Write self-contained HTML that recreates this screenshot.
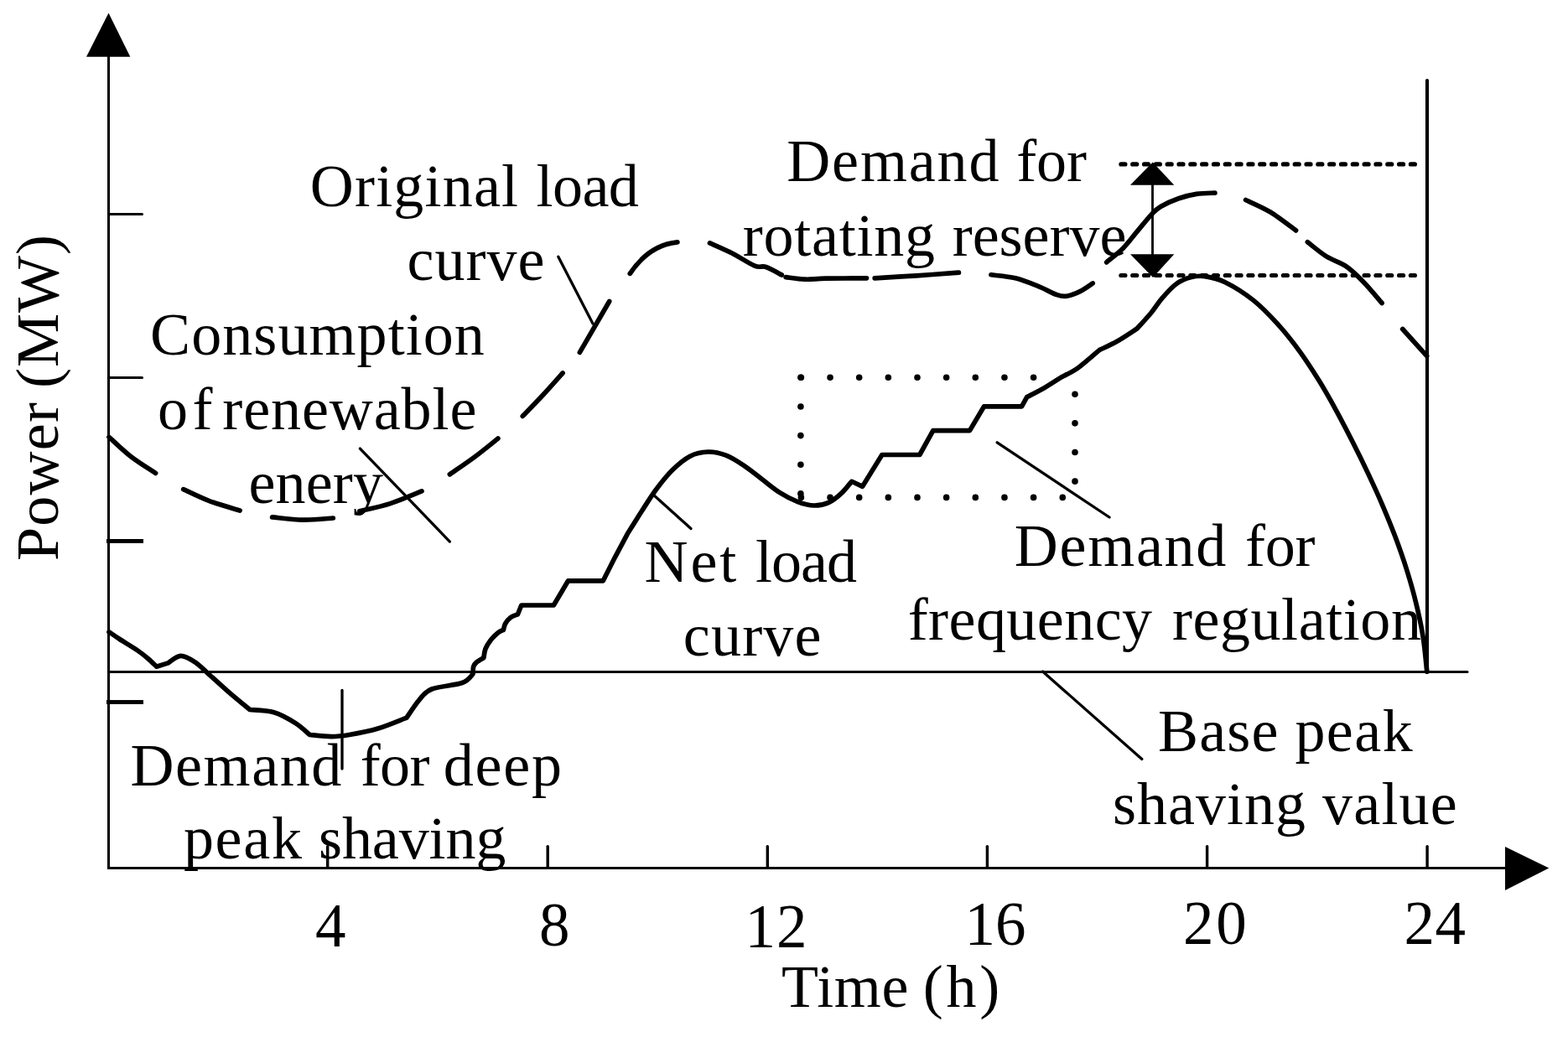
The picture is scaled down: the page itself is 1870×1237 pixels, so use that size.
<!DOCTYPE html>
<html lang="en"><head><meta charset="utf-8"><title>Load curves and flexibility demand</title>
<style>html,body{margin:0;padding:0;background:#fff}body{width:1870px;height:1237px;overflow:hidden}svg{display:block}text{font-family:"Liberation Serif", "Times New Roman", serif;font-size:72px;fill:#000;white-space:pre}.n{font-size:73px}</style></head><body>
<svg width="1870" height="1237" viewBox="0 0 1870 1237">
<rect width="1870" height="1237" fill="#fff"/>
<g stroke="#000" stroke-width="3" fill="none" stroke-linejoin="miter">
<path d="M129.5 60V1035.5H1800"/>
<path d="M129.5 801.4H1750" stroke-linecap="round"/>
<path d="M129.5 255.5H169.5" stroke-linecap="round"/>
<path d="M129.5 450.5H169.5" stroke-linecap="round"/>
</g>
<rect x="127" y="643.00" width="44" height="4.9" fill="#000"/>
<rect x="127" y="835.05" width="44" height="4.9" fill="#000"/>
<g stroke="#000" stroke-width="3.4" fill="none" stroke-linecap="round">
<path d="M390.7 1009.6V1035"/>
<path d="M653.2 1009.6V1035"/>
<path d="M915.3 1009.6V1035"/>
<path d="M1177.4 1009.6V1035"/>
<path d="M1439.6 1009.6V1035"/>
<path d="M1702.1 1009.6V1035"/>
<path d="M1702 96V802" stroke-width="4.1"/>
</g>
<path d="M129.5 15.5L155.3 67.7H103Z" fill="#000"/>
<path d="M1847.3 1035.6L1795 1010V1062Z" fill="#000"/>
<g stroke="#000" stroke-width="5.2" fill="none" stroke-linecap="round" stroke-dasharray="5 8.82">
<path d="M1336.9 195.9H1688.5"/>
<path d="M1336.9 328.5H1688.5"/>
</g>
<path d="M1374.5 215V308" stroke="#000" stroke-width="2.8" fill="none"/>
<path d="M1374.7 193.5L1400.3 220.8H1348Z" fill="#000"/>
<path d="M1375 331L1400.3 303.2H1348Z" fill="#000"/>
<g stroke="#000" stroke-width="7.6" fill="none" stroke-linecap="round" stroke-dasharray="0 34.65">
<path d="M955.4 450.3H1240"/>
<path d="M955.4 593.4H1280"/>
<path d="M954.9 450.3V594"/>
<path d="M1282 470.2V590"/>
</g>
<g stroke="#000" stroke-width="3.3" fill="none" stroke-linecap="round">
<path d="M665.8 306.3L707.0 386.0"/>
<path d="M429.4 535.1L536.4 646.1"/>
<path d="M780.1 591.0L824.0 630.6"/>
<path d="M1189.2 527.8L1323.0 617.0"/>
<path d="M1243.5 801.0L1361.8 905.5"/>
<path d="M408.0 823.4L408.0 917.1"/>
</g>
<g stroke="#000" stroke-width="5.7" fill="none" stroke-linecap="round" stroke-linejoin="round">
<path d="M130.0 753.8C132.1 755.2 137.1 758.8 142.8 762.5C148.5 766.2 158.5 772.1 164.2 776.0C169.9 779.9 173.3 782.8 177.0 786.0C180.7 789.2 185.0 793.7 186.6 795.2L200.5 790.9C203.0 789.5 210.2 782.6 215.5 782.4C220.8 782.2 226.9 786.1 232.6 789.8C238.3 793.5 243.3 799.1 249.7 804.8C256.1 810.5 263.1 817.1 271.1 824.1C279.1 831.1 293.4 842.8 297.9 846.5C302.7 847.0 317.6 847.0 326.7 849.7C335.8 852.4 345.3 858.1 352.4 862.6C359.5 867.1 366.6 874.2 369.5 876.5C373.8 876.9 387.3 878.6 395.2 878.6C403.1 878.6 407.3 878.1 416.6 876.5C425.9 874.9 439.4 872.4 450.8 869.0C462.2 865.6 479.3 858.2 485.0 856.1C487.5 852.5 495.0 840.5 500.0 834.8C505.0 829.1 506.4 825.4 514.9 822.0C523.4 818.6 543.0 817.5 551.2 814.5C559.4 811.5 562.0 805.7 564.1 803.9C564.2 802.5 563.9 797.6 564.6 795.3C565.3 793.0 566.2 791.8 568.3 790.0C570.3 788.2 575.5 785.5 576.9 784.6C577.2 782.8 577.6 777.5 579.0 773.9C580.4 770.3 583.0 766.4 585.5 763.2C588.0 760.0 591.5 756.7 594.0 754.7C596.5 752.7 599.3 752.0 600.4 751.4C600.8 750.2 601.2 746.5 602.6 744.0C604.0 741.5 606.5 738.4 609.0 736.5C611.5 734.6 616.1 733.4 617.5 732.8L621.8 722.0L660.3 722.0L677.6 692.8L719.3 692.8L733.4 664.8L748.3 636.8C751.2 632.2 759.8 618.3 765.5 609.5C771.2 600.7 776.6 591.9 782.6 583.8C788.6 575.7 794.9 567.6 801.6 561.0C808.3 554.4 815.9 547.9 823.0 544.2C830.1 540.5 837.3 539.2 844.4 539.0C851.5 538.8 858.7 540.5 865.8 543.2C872.9 545.9 880.1 550.7 887.2 555.4C894.3 560.1 901.5 566.1 908.6 571.5C915.7 576.9 922.9 583.1 930.0 587.6C937.1 592.1 944.6 596.0 951.4 598.6C958.2 601.2 964.8 602.9 971.0 603.0C977.2 603.1 983.1 601.7 988.5 599.3C993.9 596.9 999.0 592.6 1003.5 588.4C1008.0 584.2 1013.7 576.6 1015.7 574.3L1028.6 580.3L1051.9 542.5L1096.8 542.5L1112.8 513.6L1156.5 513.6L1173.6 484.8L1218.5 484.8L1224.7 473.6C1228.1 471.8 1238.1 467.0 1245.0 463.0C1251.9 459.0 1262.7 451.9 1266.2 449.7C1269.4 447.9 1278.0 444.4 1285.5 439.0C1293.0 433.6 1306.8 421.2 1311.1 417.6C1314.7 415.8 1325.0 411.3 1332.5 407.0C1340.0 402.7 1352.1 394.5 1356.0 392.0C1358.9 388.8 1368.2 378.8 1373.2 372.7C1378.2 366.6 1381.0 361.3 1386.0 355.6C1391.0 349.9 1397.4 342.6 1403.1 338.5C1408.8 334.4 1414.3 332.3 1420.0 330.8C1425.7 329.3 1430.2 328.7 1437.0 329.6C1443.8 330.6 1451.0 331.7 1460.7 336.5C1470.4 341.3 1484.4 349.9 1495.0 358.4C1505.6 366.9 1515.3 377.2 1524.5 387.4C1533.7 397.6 1542.2 408.5 1550.3 419.6C1558.4 430.7 1565.8 442.3 1573.1 454.1C1580.4 465.9 1587.2 478.1 1593.9 490.3C1600.6 502.5 1606.9 514.9 1613.2 527.3C1619.5 539.7 1625.6 552.1 1631.5 564.6C1637.4 577.1 1643.2 589.6 1648.6 602.3C1654.0 615.0 1659.3 627.7 1664.1 640.6C1668.9 653.5 1673.5 666.4 1677.6 679.5C1681.7 692.6 1685.5 705.8 1688.7 719.1C1692.0 732.5 1694.9 745.9 1697.1 759.6C1699.3 773.3 1701.0 794.3 1701.8 801.2"/>
<path d="M130.0 521.4C134.3 525.2 146.3 537.0 155.6 544.2C164.9 551.4 180.6 561.1 185.6 564.5"/>
<path d="M218.7 583.7C223.9 586.0 238.5 593.4 249.7 597.6C260.9 601.8 280.0 607.1 286.1 609.0"/>
<path d="M324.6 616.9C330.7 617.4 348.9 619.9 361.0 620.1C373.1 620.3 391.2 618.4 397.3 618.0"/>
<path d="M428.8 609.8C434.9 608.3 453.1 604.6 465.5 600.6C477.9 596.6 496.8 588.4 503.0 585.9"/>
<path d="M536.4 565.9C541.2 562.5 555.9 552.6 565.5 545.5C575.1 538.4 589.2 526.8 593.9 523.1"/>
<path d="M623.3 496.4C627.3 492.2 639.5 479.9 647.5 471.3C655.5 462.7 667.2 449.4 671.1 445.0"/>
<path d="M691.4 420.4L726.7 359.5"/>
<path d="M751.3 326.3Q774.5 292.0 808.0 288.9"/>
<path d="M846.5 289.9C850.9 291.9 864.1 297.4 873.0 302.0C881.9 306.6 893.4 314.4 900.1 317.2C906.9 319.9 908.1 316.7 913.5 318.5C918.9 320.3 929.1 326.3 932.2 327.9"/>
<path d="M937.0 330.6C940.8 331.0 952.0 332.9 960.0 333.2C968.0 333.5 972.8 332.4 985.0 332.2C997.2 332.0 1025.4 331.9 1033.5 331.8"/>
<path d="M1043.2 331.9C1051.5 331.4 1076.3 329.9 1093.0 328.8C1109.7 327.7 1135.0 325.8 1143.4 325.2"/>
<path d="M1181.9 327.8C1186.8 328.5 1201.7 329.5 1211.0 331.8C1220.3 334.1 1229.8 338.1 1238.0 341.4C1246.2 344.7 1254.7 349.6 1260.4 351.6C1266.1 353.6 1267.4 353.9 1272.0 353.2C1276.6 352.5 1282.8 350.2 1288.0 347.6C1293.2 345.1 1300.7 339.5 1303.2 337.9"/>
<path d="M1319.7 312.8C1323.0 310.0 1333.4 302.1 1339.3 296.2C1345.2 290.3 1349.6 284.0 1355.3 277.2C1361.0 270.4 1368.7 260.7 1373.5 255.6C1378.3 250.5 1378.9 249.6 1384.2 246.5C1389.5 243.4 1398.5 239.3 1405.6 236.8C1412.7 234.3 1419.8 232.5 1427.0 231.4C1434.2 230.3 1445.2 230.3 1448.9 230.1"/>
<path d="M1485.6 238.5C1490.6 241.0 1505.5 247.2 1515.5 253.3C1525.5 259.4 1540.5 271.3 1545.5 274.9"/>
<path d="M1559.4 288.8C1563.1 291.6 1574.2 301.1 1581.8 305.9C1589.4 310.7 1597.8 312.4 1605.3 317.6C1612.8 322.8 1619.6 329.6 1626.7 336.9C1633.8 344.2 1644.5 357.4 1648.1 361.5"/>
<path d="M1672.7 392.5L1701.6 424.6"/>
</g>
<text><tspan x="369.8" y="246.4" style="letter-spacing:1.19px">Original</tspan> <tspan x="639.6" y="246.4" style="letter-spacing:-0.60px">load</tspan></text>
<text><tspan x="485.6" y="333.8" style="letter-spacing:1.00px">curve</tspan></text>
<text><tspan x="179.1" y="423.0" style="letter-spacing:1.07px">Consumption</tspan></text>
<text><tspan x="188.1" y="511.6" style="letter-spacing:5.40px">of</tspan> <tspan x="265.3" y="511.6" style="letter-spacing:0.91px">renewable</tspan></text>
<text><tspan x="296.4" y="599.5" style="letter-spacing:0.15px">enery</tspan></text>
<text><tspan x="938.2" y="216.0" style="letter-spacing:1.88px">Demand</tspan> <tspan x="1212.3" y="216.0" style="letter-spacing:-0.15px">for</tspan></text>
<text><tspan x="885.7" y="304.5" style="letter-spacing:0.76px">rotating</tspan> <tspan x="1135.7" y="304.5" style="letter-spacing:-0.03px">reserve</tspan></text>
<text><tspan x="768.6" y="694.3" style="letter-spacing:2.90px">Net</tspan> <tspan x="900.9" y="694.3" style="letter-spacing:-0.93px">load</tspan></text>
<text><tspan x="814.8" y="781.6" style="letter-spacing:1.20px">curve</tspan></text>
<text><tspan x="1209.8" y="675.2" style="letter-spacing:1.72px">Demand</tspan> <tspan x="1485.1" y="675.2" style="letter-spacing:-0.30px">for</tspan></text>
<text><tspan x="1082.7" y="763.0" style="letter-spacing:0.44px">frequency</tspan> <tspan x="1397.9" y="763.0" style="letter-spacing:0.57px">regulation</tspan></text>
<text><tspan x="155.4" y="936.6" style="letter-spacing:1.60px">Demand</tspan> <tspan x="429.7" y="936.6" style="letter-spacing:-0.60px">for</tspan> <tspan x="528.8" y="936.6" style="letter-spacing:1.73px">deep</tspan></text>
<text><tspan x="218.9" y="1023.7" style="letter-spacing:1.73px">peak</tspan> <tspan x="380.0" y="1023.7" style="letter-spacing:-0.10px">shaving</tspan></text>
<text><tspan x="1381.0" y="896.0" style="letter-spacing:1.13px">Base</tspan> <tspan x="1544.4" y="896.0" style="letter-spacing:1.47px">peak</tspan></text>
<text><tspan x="1327.0" y="983.0" style="letter-spacing:1.00px">shaving</tspan> <tspan x="1577.1" y="983.0" style="letter-spacing:1.18px">value</tspan></text>
<text><tspan x="932.1" y="1200.6" style="letter-spacing:0.63px">Time</tspan> <tspan x="1100.8" y="1200.6" style="letter-spacing:3.70px">(h)</tspan></text>
<text class="n"><tspan x="375.9" y="1128.9" style="letter-spacing:0.00px">4</tspan></text>
<text class="n"><tspan x="643.1" y="1128.0" style="letter-spacing:0.00px">8</tspan></text>
<text class="n"><tspan x="888.4" y="1130.1" style="letter-spacing:1.00px">12</tspan></text>
<text class="n"><tspan x="1150.5" y="1126.7" style="letter-spacing:0.10px">16</tspan></text>
<text class="n"><tspan x="1411.1" y="1125.6" style="letter-spacing:2.70px">20</tspan></text>
<text class="n"><tspan x="1674.4" y="1125.6" style="letter-spacing:0.50px">24</tspan></text>
<text transform="translate(69.0 0) rotate(-90)"><tspan x="-669.0" y="0" style="letter-spacing:1.25px">Power</tspan> <tspan x="-463.0" y="0" style="letter-spacing:1.00px">(MW)</tspan></text>
</svg></body></html>
